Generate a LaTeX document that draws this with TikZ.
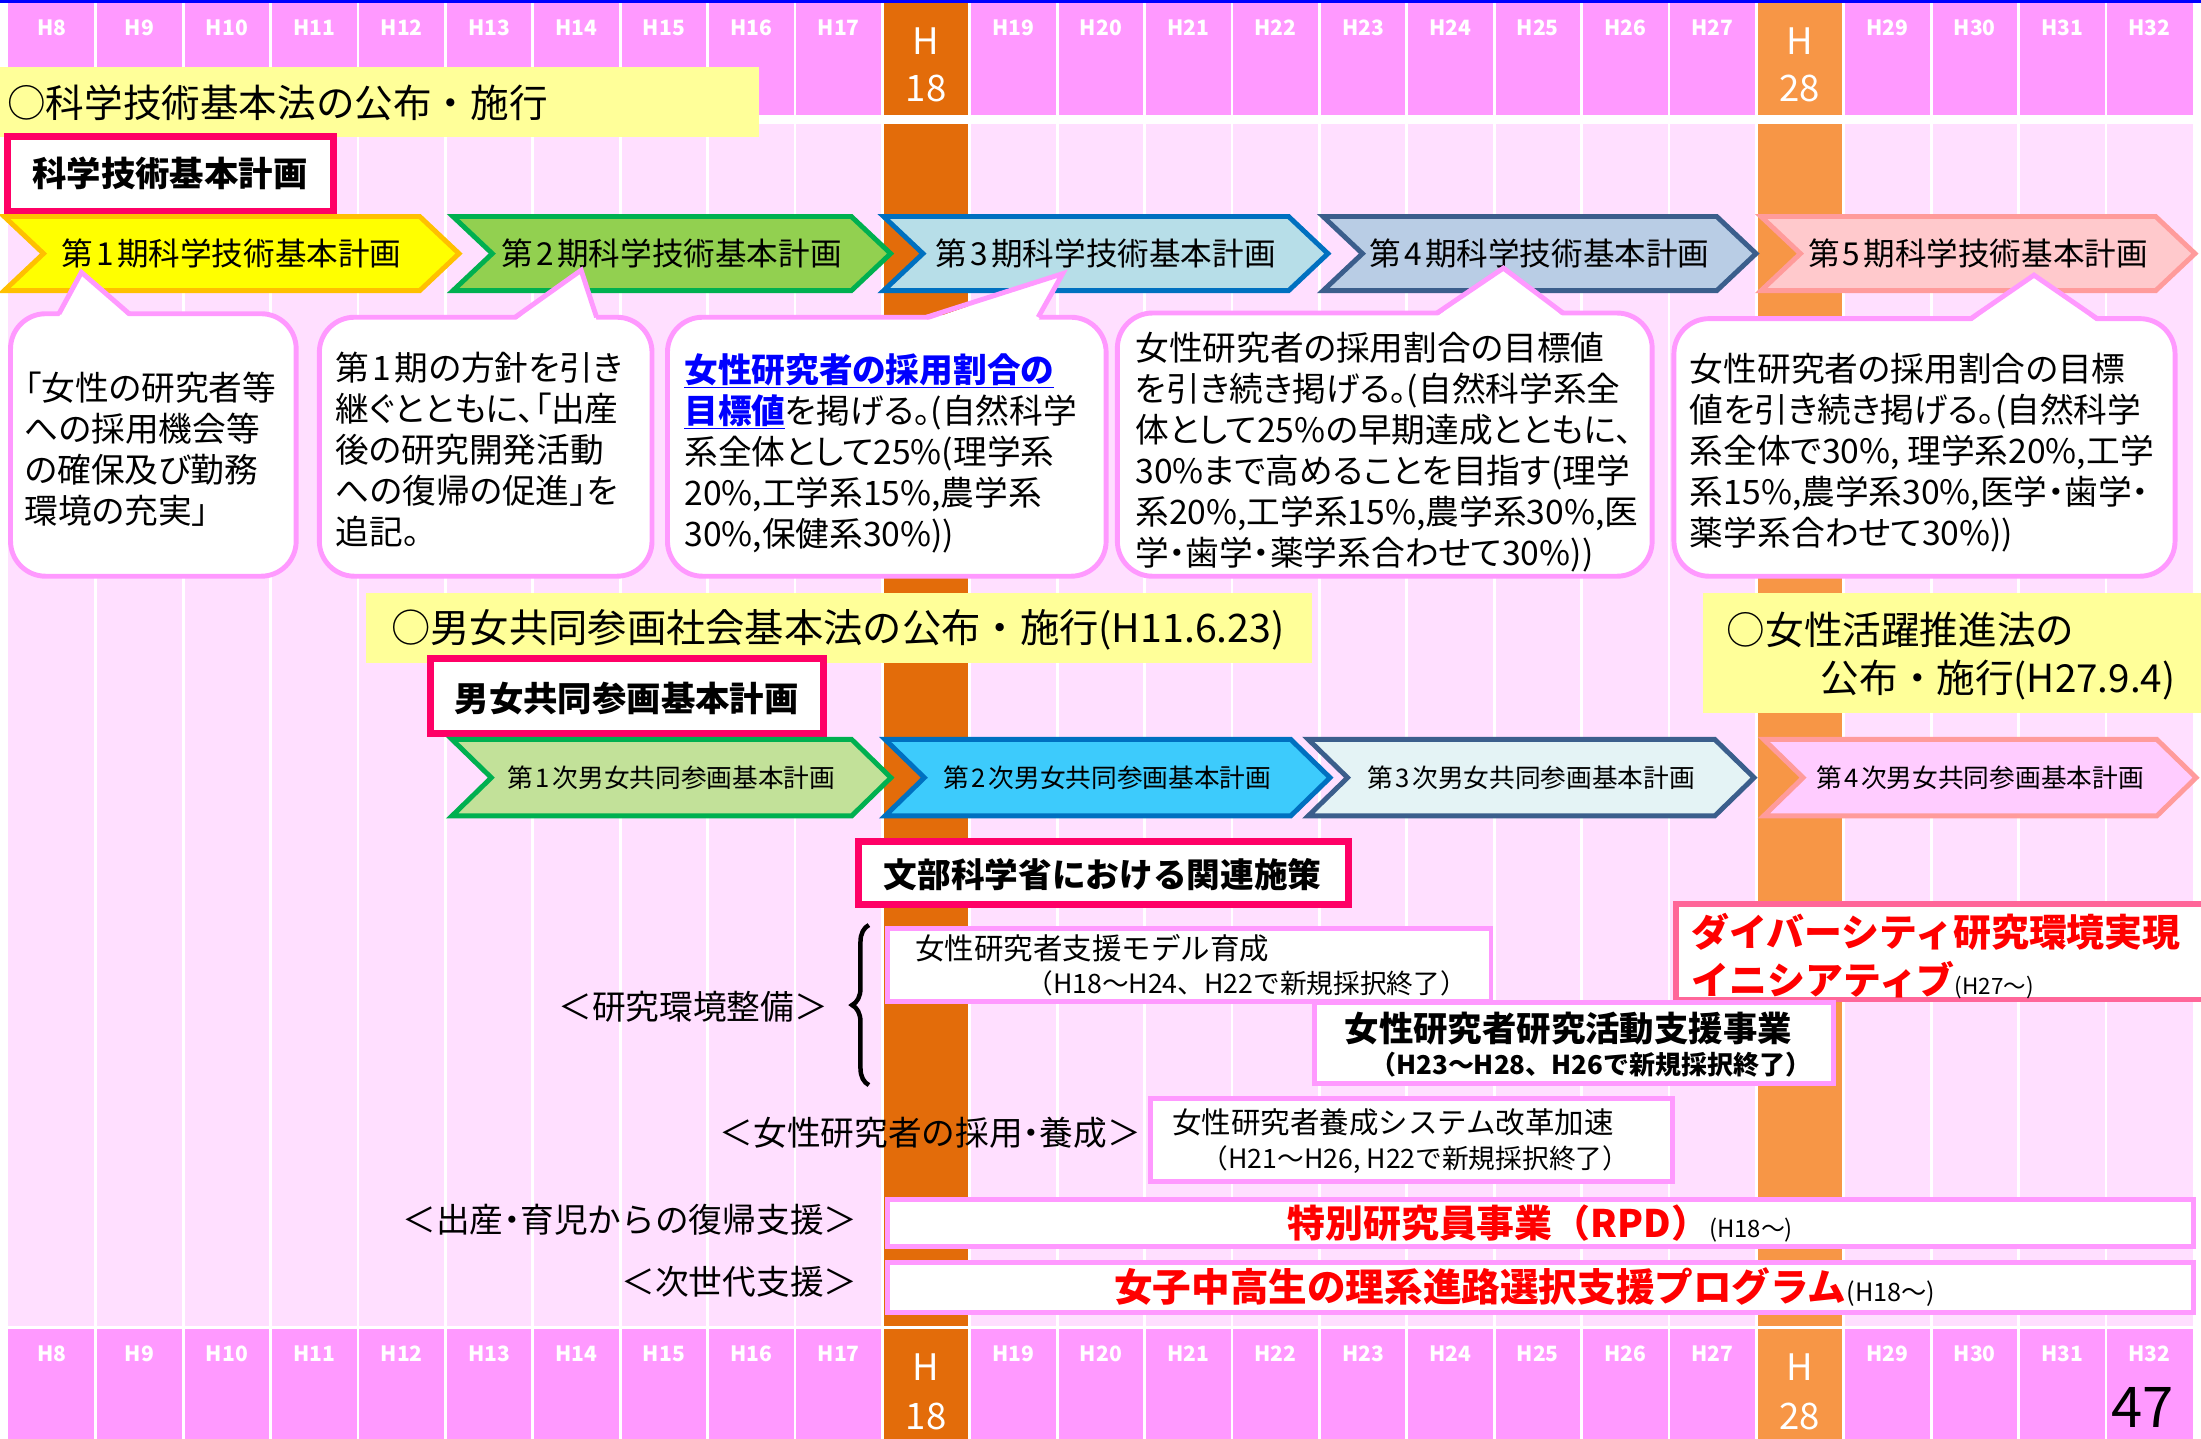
\documentclass[tikz,border=0pt]{standalone}
\usepackage{fontspec}
\setmainfont{Noto Sans CJK JP}
\newfontfamily\pfont[RawFeature=+palt]{Noto Sans CJK JP}
\usetikzlibrary{decorations.pathreplacing}
\definecolor{hdrpink}{HTML}{FF99FF}
\definecolor{bodypink}{HTML}{FFDFFF}
\definecolor{darkor}{HTML}{E36C0A}
\definecolor{lightor}{HTML}{F79646}
\definecolor{paleyel}{HTML}{FFFF99}
\definecolor{crimson}{HTML}{FF0066}
\definecolor{bubble}{HTML}{FF99FF}
\definecolor{divpink}{HTML}{FF6699}
\definecolor{redtxt}{HTML}{FF0000}
\definecolor{bluetxt}{HTML}{0000FF}
\definecolor{topblue}{HTML}{0000FF}
\definecolor{cAf}{HTML}{FFFF00}\definecolor{cAd}{HTML}{FFC000}
\definecolor{cBf}{HTML}{92D050}\definecolor{cBd}{HTML}{00B050}
\definecolor{cCf}{HTML}{B7DEE8}\definecolor{cCd}{HTML}{0070C0}
\definecolor{cDf}{HTML}{B9CDE5}\definecolor{cDd}{HTML}{3B5E8C}
\definecolor{cEf}{HTML}{FFC9CC}\definecolor{cEd}{HTML}{FF9B9B}
\definecolor{dAf}{HTML}{C2E199}
\definecolor{dBf}{HTML}{3DCBFC}
\definecolor{dCf}{HTML}{E4F3F5}
\definecolor{dDf}{HTML}{FFCCFF}
\newcommand{\dgt}[1]{\kern0.1em#1\kern0.1em}
\newcommand{\nd}{\kern-0.25em・\kern-0.25em}
\newcommand{\chv}[8]{%
  \draw[line width=3.5, line join=miter, miter limit=10, fill=#6, draw=#7]
    (#2,{#4+1.75}) -- ({#3-28},{#4+1.75}) -- (#3,{(#4+#5)/2}) -- ({#3-28},{#5-1.75})
    -- (#2,{#5-1.75}) -- ({#2+28},{(#4+#5)/2}) -- cycle;
  \node[inner sep=0] (#1) at ({(#2+#3)/2},{(#4+#5)/2}) {#8};
}
\newcommand{\callout}[8]{%
  \draw[bubble line, fill=white, rounded corners=25] (#1,#3) rectangle (#2,#4);
  \fill[white] (#5,{#3+2.5}) -- (#6,#7) -- (#8,{#3+2.5}) -- cycle;
  \draw[bubble line, line join=miter] (#5,#3) -- (#6,#7) -- (#8,#3);
}
\begin{document}
\begin{tikzpicture}[x=1pt,y=-1pt,
  hlab/.style={text=white, font=\bfseries\fontsize{15}{15}\selectfont, inner sep=0},
  hbig/.style={text=white, font=\fontsize{26}{26}\selectfont, inner sep=0},
  bubble line/.style={draw=bubble, line width=3.5},
  cotext/.style={inner sep=0, anchor=north west, align=left, font=\pfont\fontsize{24}{29.2}\selectfont},
  crbox/.style={draw=crimson, line width=5, fill=white},
  pkbox/.style={draw=bubble, line width=3.5, fill=white},
  yband/.style={fill=paleyel},
  tx/.style={inner sep=0},
  row1/.style={font=\fontsize{22.5}{22.5}\selectfont},
  row2/.style={font=\fontsize{18.3}{18.3}\selectfont}
]
\useasboundingbox (0,0) rectangle (1568,1025);
\fill[white] (0,0) rectangle (1568,1025);
\fill[topblue] (0,0) rectangle (1568,2);
% bands
\fill[hdrpink] (6,2.4) rectangle (1562.5,82);
\fill[bodypink] (6,88) rectangle (1562.5,944.5);
\fill[hdrpink] (6,946.5) rectangle (1562.5,1025);
\foreach \ya/\yb in {2.4/82,88/944.5,946.5/1025} {
  \fill[darkor] (628.6,\ya) rectangle (690.86,\yb);
  \fill[lightor] (1251.2,\ya) rectangle (1313.46,\yb);
}
\foreach \i in {1,...,24} \draw[white,line width=2] ({6+62.26*\i},2.4) -- ({6+62.26*\i},1025);
% year labels
\foreach \i/\lab in {0/8,1/9,2/10,3/11,4/12,5/13,6/14,7/15,8/16,9/17,11/19,12/20,13/21,14/22,15/23,16/24,17/25,18/26,19/27,21/29,22/30,23/31,24/32} {
  \node[hlab] (ht\lab) at ({6+62.26*(\i+0.5)},19.5) {H\lab};
  \node[hlab] (hb\lab) at ({6+62.26*(\i+0.5)},964.5) {H\lab};
}
\node[hbig] (ht18h) at (659.7,29) {H};
\node[hbig] (ht18n) at (659.7,63) {18};
\node[hbig] (hb18h) at (659.7,974) {H};
\node[hbig] (hb18n) at (659.7,1009) {18};
\node[hbig] (ht28h) at (1282.3,29) {H};
\node[hbig] (ht28n) at (1282.3,63) {28};
\node[hbig] (hb28h) at (1282.3,974) {H};
\node[hbig] (hb28n) at (1282.3,1009) {28};
\node[tx, font=\fontsize{40}{40}\selectfont] (pageno) at (1526.5,1003) {47};

% law band 1
\fill[yband] (0,47.5) rectangle (540.8,97.4);
\node[tx, anchor=west, font=\fontsize{27.5}{27.5}\selectfont] (law1) at (5,73.6) {○科学技術基本法の公布・施行};
\draw[crbox] (5,97.5) rectangle (237.5,150.7);
\node[tx, font=\bfseries\fontsize{24.5}{24.5}\selectfont] (kihon1) at (121,123.5) {科学技術基本計画};

% chevrons row 1
\chv{p1}{3}{327}{152.5}{208.8}{cAf}{cAd}{\fontsize{22.5}{22.5}\selectfont 第\dgt{1}期科学技術基本計画}
\chv{p2}{322.7}{634.5}{152.5}{208.8}{cBf}{cBd}{\fontsize{22.5}{22.5}\selectfont 第\dgt{2}期科学技術基本計画}
\chv{p3}{629.5}{946}{152.5}{208.8}{cCf}{cCd}{\fontsize{22.5}{22.5}\selectfont 第\dgt{3}期科学技術基本計画}
\chv{p4}{942.6}{1251}{152.5}{208.8}{cDf}{cDd}{\fontsize{22.5}{22.5}\selectfont 第\dgt{4}期科学技術基本計画}
\chv{p5}{1254.6}{1563.7}{152.5}{208.8}{cEf}{cEd}{\fontsize{22.5}{22.5}\selectfont 第\dgt{5}期科学技術基本計画}

% callouts
\callout{7.5}{211}{223.5}{410.5}{42}{58}{194}{92}
\callout{227.5}{464.5}{226}{410.5}{367}{414}{192.5}{425}
\callout{475.5}{788}{226}{410.5}{660}{757}{195}{739.6}
\callout{796}{1177}{223}{410.5}{1023.7}{1071}{191}{1113.5}
\callout{1192.5}{1549.5}{227}{410.5}{1404}{1449}{196}{1494}
\node[cotext] (c1) at (17.5,264.7) {「女性の研究者等\\への採用機会等\\の確保及び勤務\\環境の充実」};
\node[cotext] (c2) at (239,250.7) {第\dgt{1}期の方針を引き\\継ぐとともに、「出産\\後の研究開発活動\\への復帰の促進」を\\追記。};
\node[cotext] (c3) at (487.3,251.6) {{\color{bluetxt}\bfseries\underline{女性研究者の採用割合の}}\\{\color{bluetxt}\bfseries\underline{目標値}}を掲げる。(自然科学\\系全体として25\%(理学系\\20\%,工学系15\%,農学系\\30\%,保健系30\%))};
\node[cotext] (c4) at (808.6,236.2) {女性研究者の採用割合の目標値\\を引き続き掲げる。(自然科学系全\\体として25\%の早期達成とともに、\\30\%まで高めることを目指す(理学\\系20\%,工学系15\%,農学系30\%,医\\学・歯学・薬学系合わせて30\%))};
\node[cotext] (c5) at (1203.7,251.6) {女性研究者の採用割合の目標\\値を引き続き掲げる。(自然科学\\系全体で30\%, 理学系20\%,工学\\系15\%,農学系30\%,医学・歯学・\\薬学系合わせて30\%))};

% law band 2 and 3
\fill[yband] (261,422.7) rectangle (934.5,472.5);
\node[tx, anchor=west, font=\fontsize{28}{28}\selectfont] (law2) at (278.5,448.8) {○男女共同参画社会基本法の公布・施行(H11.6.23)};
\fill[yband] (1213,422.7) rectangle (1568,508);
\node[tx, anchor=west, font=\fontsize{27.5}{27.5}\selectfont] (law3a) at (1230,448.8) {○女性活躍推進法の};
\node[tx, anchor=west, font=\fontsize{27.5}{27.5}\selectfont] (law3b) at (1297,484.4) {公布・施行(H27.9.4)};
\draw[crbox] (306.5,469) rectangle (586.5,522.3);
\node[tx, font=\bfseries\fontsize{24.5}{24.5}\selectfont] (kihon2) at (446.5,497.5) {男女共同参画基本計画};

% chevrons row 2
\chv{q1}{322}{634.7}{525}{583}{dAf}{cBd}{\fontsize{18.3}{18.3}\selectfont 第\dgt{1}次男女共同参画基本計画}
\chv{q2}{630.5}{947.5}{525}{583}{dBf}{cCd}{\fontsize{18.3}{18.3}\selectfont 第\dgt{2}次男女共同参画基本計画}
\chv{q3}{932}{1249.6}{525}{583}{dCf}{cDd}{\fontsize{18.3}{18.3}\selectfont 第\dgt{3}次男女共同参画基本計画}
\chv{q4}{1256.5}{1564.5}{525}{583}{dDf}{cEd}{\fontsize{18.3}{18.3}\selectfont 第\dgt{4}次男女共同参画基本計画}

% MEXT measures
\draw[crbox] (611.5,599.5) rectangle (960.5,644.5);
\node[tx, font=\bfseries\fontsize{24}{24}\selectfont] (mext) at (785.5,623.4) {文部科学省における関連施策};

\coordinate (brb) at (619,773);
\coordinate (brt) at (619,659);
\draw[decorate, decoration={brace, amplitude=12}, line width=3.2] (brb) -- (brt);
\node[tx, anchor=east, font=\fontsize{24}{24}\selectfont] (lab1) at (590,717) {＜研究環境整備＞};
\node[tx, anchor=east, font=\fontsize{24}{24}\selectfont] (lab2) at (813,807) {＜女性研究者の採用\nd 養成＞};
\node[tx, anchor=east, font=\fontsize{24}{24}\selectfont] (lab3) at (611,869) {＜出産\nd 育児からの復帰支援＞};
\node[tx, anchor=east, font=\fontsize{24}{24}\selectfont] (lab4) at (611,913) {＜次世代支援＞};

\draw[pkbox] (632.3,661.5) rectangle (1062.2,713.2);
\node[tx, anchor=west, font=\fontsize{21}{21}\selectfont] (m1a) at (652,675.5) {女性研究者支援モデル育成};
\node[tx, anchor=west, font=\fontsize{19}{19}\selectfont] (m1b) at (731,700.5) {（H18～H24、H22で新規採択終了）};

\draw[draw=divpink, line width=4, fill=white] (1194,644) rectangle (1572,712);
\node[tx, anchor=west, font=\bfseries\fontsize{27}{27}\selectfont, text=redtxt] (d1a) at (1205,663.7) {ダイバーシティ研究環境実現};
\node[tx, anchor=west, font=\bfseries\fontsize{27}{27}\selectfont, text=redtxt] (d1b) at (1205,698) {イニシアティブ{\mdseries\color{black}\fontsize{16}{16}\selectfont (H27～)}};

\draw[pkbox] (936.3,714.2) rectangle (1306.2,772.2);
\node[tx, anchor=west, font=\bfseries\fontsize{24.5}{24.5}\selectfont] (s1a) at (957.8,732.5) {女性研究者研究活動支援事業};
\node[tx, anchor=west, font=\bfseries\fontsize{18.5}{18.5}\selectfont] (s1b) at (976,758.7) {（H23～H28、H26で新規採択終了）};

\draw[pkbox] (819.8,782.8) rectangle (1191.2,841.7);
\node[tx, anchor=west, font=\fontsize{21}{21}\selectfont] (y1a) at (835,799.8) {女性研究者養成システム改革加速};
\node[tx, anchor=west, font=\fontsize{19}{19}\selectfont] (y1b) at (856,826.4) {（H21～H26, H22で新規採択終了）};

\draw[pkbox] (632.3,854.3) rectangle (1562.7,888.2);
\node[tx, anchor=west, font=\bfseries\fontsize{27}{27}\selectfont, text=redtxt] (rpd) at (917,871.5) {特別研究員事業（RPD）{\mdseries\color{black}\fontsize{17}{17}\selectfont(H18～)}};

\draw[pkbox] (632.3,899.4) rectangle (1562.7,935);
\node[tx, anchor=west, font=\bfseries\fontsize{27.5}{27.5}\selectfont, text=redtxt] (jisedai) at (793.6,916.7) {女子中高生の理系進路選択支援プログラム{\mdseries\color{black}\fontsize{18}{18}\selectfont(H18～)}};
\end{tikzpicture}
\end{document}
